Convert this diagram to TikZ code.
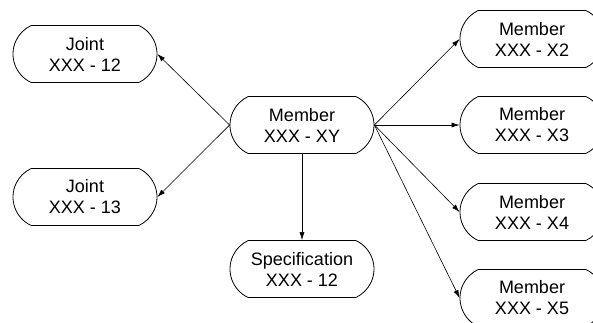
\documentclass[tikz,border=0pt]{standalone}
\usepackage{fontspec}
\setmainfont{Liberation Sans}
\usetikzlibrary{shapes.misc, arrows.meta}

\begin{document}
\begin{tikzpicture}[x=1pt, y=-1pt,
            item/.style={draw, thick, rounded rectangle, rounded rectangle arc length=130,
                minimum width=144pt, minimum height=57pt, inner sep=0pt, align=center,
                font=\fontsize{18}{21}\selectfont},
            link/.style={-{Latex[length=8pt, width=5pt]}, semithick}]
            \useasboundingbox (0,0) rectangle (593,322);
            \node[item] (J12) at (85,54) {Joint\\XXX - 12};
            \node[item] (J13) at (85,197) {Joint\\XXX - 13};
            \node[item] (MXY) at (302,125) {Member\\XXX - XY};
            \node[item] (S12) at (302,269) {Specification\\XXX - 12};
            \node[item] (MX2) at (532,39) {Member\\XXX - X2};
            \node[item] (MX3) at (532,125) {Member\\XXX - X3};
            \node[item] (MX4) at (532,212) {Member\\XXX - X4};
            \node[item] (MX5) at (532,298) {Member\\XXX - X5};
            \draw[link] (MXY.west) -- (J12.east);
            \draw[link] (MXY.west) -- (J13.east);
            \draw[link] (MXY.south) -- (S12.north);
            \draw[link] (MXY.east) -- (MX2.west);
            \draw[link] (MXY.east) -- (MX3.west);
            \draw[link] (MXY.east) -- (MX4.west);
            \draw[link] (MXY.east) -- (MX5.west);
        \end{tikzpicture}
\end{document}
